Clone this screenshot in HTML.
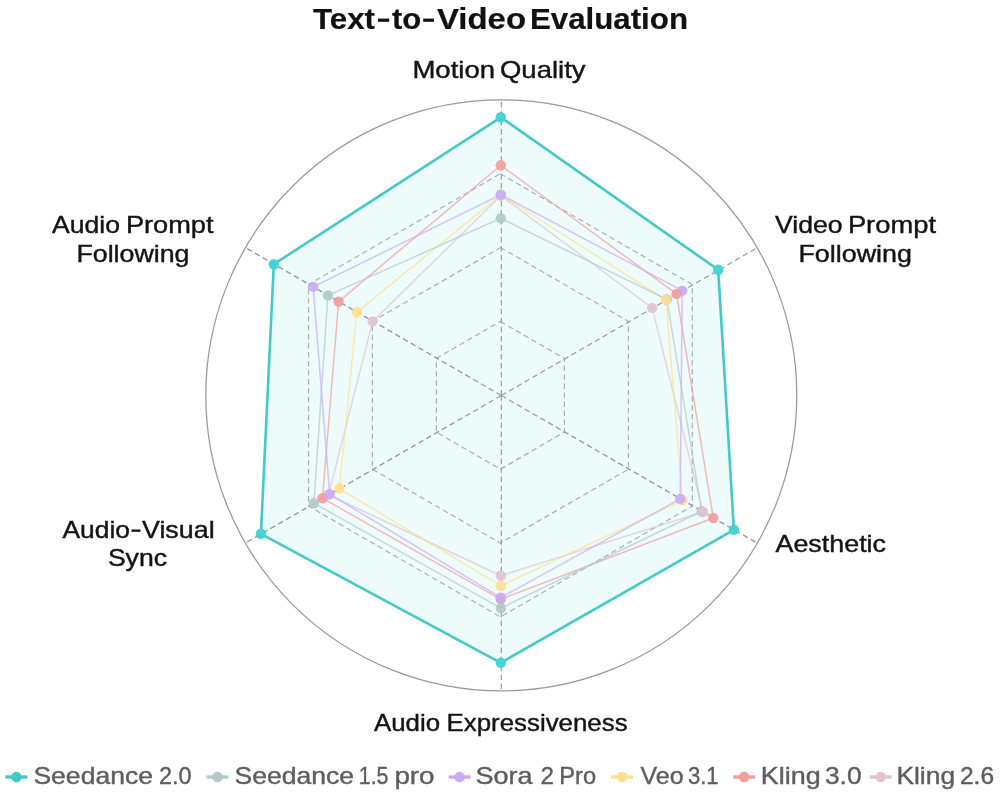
<!DOCTYPE html>
<html><head><meta charset="utf-8"><style>
html,body{margin:0;padding:0;background:#fff;}
svg{display:block;font-family:"Liberation Sans",sans-serif;filter:blur(0.45px);}
</style></head><body>
<svg width="1000" height="794" viewBox="0 0 1000 794">
<rect width="1000" height="794" fill="#ffffff"/>
<polygon points="500.8,117.3 718.2,269.8 733.9,529.9 500.8,662.8 260.9,533.8 273.8,264.2" fill="#edfbfb" stroke="none"/>
<polygon points="500.4,321.4 564.4,358.4 564.4,432.2 500.4,469.2 436.4,432.2 436.4,358.4" fill="none" stroke="#aab0b0" stroke-width="1.2" stroke-dasharray="5.5,3.5"/>
<polygon points="500.4,247.6 628.4,321.4 628.4,469.2 500.4,543.0 372.4,469.2 372.4,321.4" fill="none" stroke="#aab0b0" stroke-width="1.2" stroke-dasharray="5.5,3.5"/>
<polygon points="500.4,173.7 692.3,284.5 692.3,506.1 500.4,616.9 308.5,506.1 308.5,284.5" fill="none" stroke="#aab0b0" stroke-width="1.2" stroke-dasharray="5.5,3.5"/>
<line x1="501.3" y1="395.4" x2="501.3" y2="99.9" stroke="#979b9b" stroke-width="1.2" stroke-dasharray="5.5,3.5"/>
<line x1="501.3" y1="395.4" x2="757.2" y2="247.7" stroke="#979b9b" stroke-width="1.2" stroke-dasharray="5.5,3.5"/>
<line x1="501.3" y1="395.4" x2="757.2" y2="543.1" stroke="#979b9b" stroke-width="1.2" stroke-dasharray="5.5,3.5"/>
<line x1="501.3" y1="395.4" x2="501.3" y2="690.9" stroke="#979b9b" stroke-width="1.2" stroke-dasharray="5.5,3.5"/>
<line x1="501.3" y1="395.4" x2="245.4" y2="543.1" stroke="#979b9b" stroke-width="1.2" stroke-dasharray="5.5,3.5"/>
<line x1="501.3" y1="395.4" x2="245.4" y2="247.6" stroke="#979b9b" stroke-width="1.2" stroke-dasharray="5.5,3.5"/>
<circle cx="501.3" cy="395.4" r="295.5" fill="none" stroke="#999999" stroke-width="1.25"/>
<polygon points="500.8,195.8 652.2,307.9 702.9,512.0 500.8,575.7 328.5,494.8 372.7,321.4" fill="none" stroke="#dfc4cf" stroke-width="1.5" stroke-linejoin="round" stroke-opacity="0.7"/>
<polygon points="500.8,165.3 676.5,293.9 713.3,518.0 500.8,599.3 322.5,498.2 338.6,301.6" fill="none" stroke="#f39c9c" stroke-width="1.5" stroke-linejoin="round" stroke-opacity="0.7"/>
<polygon points="500.8,194.8 665.9,300.0 682.7,500.3 500.8,585.9 339.4,488.5 356.9,312.2" fill="none" stroke="#fde08f" stroke-width="1.5" stroke-linejoin="round" stroke-opacity="0.7"/>
<polygon points="500.8,194.6 682.2,290.6 680.2,498.9 500.8,597.6 329.7,494.1 313.1,286.9" fill="none" stroke="#c9abf7" stroke-width="1.5" stroke-linejoin="round" stroke-opacity="0.7"/>
<polygon points="500.8,218.3 666.9,299.4 701.7,511.3 500.8,608.2 313.9,503.2 327.9,295.4" fill="none" stroke="#b2cbc7" stroke-width="1.5" stroke-linejoin="round" stroke-opacity="0.7"/>
<circle cx="500.8" cy="218.3" r="5.2" fill="#b2cbc7" fill-opacity="0.92"/>
<circle cx="500.8" cy="165.3" r="5.2" fill="#f39c9c" fill-opacity="0.92"/>
<circle cx="500.8" cy="194.8" r="5.2" fill="#fde08f" fill-opacity="0.92"/>
<circle cx="500.8" cy="195.8" r="5.2" fill="#dfc4cf" fill-opacity="0.92"/>
<circle cx="500.8" cy="194.6" r="5.2" fill="#c9abf7" fill-opacity="0.92"/>
<circle cx="666.9" cy="299.4" r="5.2" fill="#b2cbc7" fill-opacity="0.92"/>
<circle cx="652.2" cy="307.9" r="5.2" fill="#dfc4cf" fill-opacity="0.92"/>
<circle cx="665.9" cy="300.0" r="5.2" fill="#fde08f" fill-opacity="0.92"/>
<circle cx="682.2" cy="290.6" r="5.2" fill="#c9abf7" fill-opacity="0.92"/>
<circle cx="676.5" cy="293.9" r="5.2" fill="#f39c9c" fill-opacity="0.92"/>
<circle cx="682.7" cy="500.3" r="5.2" fill="#fde08f" fill-opacity="0.92"/>
<circle cx="680.2" cy="498.9" r="5.2" fill="#c9abf7" fill-opacity="0.92"/>
<circle cx="701.7" cy="511.3" r="5.2" fill="#b2cbc7" fill-opacity="0.92"/>
<circle cx="702.9" cy="512.0" r="5.2" fill="#dfc4cf" fill-opacity="0.92"/>
<circle cx="713.3" cy="518.0" r="5.2" fill="#f39c9c" fill-opacity="0.92"/>
<circle cx="500.8" cy="575.7" r="5.2" fill="#dfc4cf" fill-opacity="0.92"/>
<circle cx="500.8" cy="585.9" r="5.2" fill="#fde08f" fill-opacity="0.92"/>
<circle cx="500.8" cy="599.3" r="5.2" fill="#f39c9c" fill-opacity="0.92"/>
<circle cx="500.8" cy="597.6" r="5.2" fill="#c9abf7" fill-opacity="0.92"/>
<circle cx="500.8" cy="608.2" r="5.2" fill="#b2cbc7" fill-opacity="0.92"/>
<circle cx="328.5" cy="494.8" r="5.2" fill="#dfc4cf" fill-opacity="0.92"/>
<circle cx="313.9" cy="503.2" r="5.2" fill="#b2cbc7" fill-opacity="0.92"/>
<circle cx="339.4" cy="488.5" r="5.2" fill="#fde08f" fill-opacity="0.92"/>
<circle cx="322.5" cy="498.2" r="5.2" fill="#f39c9c" fill-opacity="0.92"/>
<circle cx="329.7" cy="494.1" r="5.2" fill="#c9abf7" fill-opacity="0.92"/>
<circle cx="372.7" cy="321.4" r="5.2" fill="#dfc4cf" fill-opacity="0.92"/>
<circle cx="356.9" cy="312.2" r="5.2" fill="#fde08f" fill-opacity="0.92"/>
<circle cx="338.6" cy="301.6" r="5.2" fill="#f39c9c" fill-opacity="0.92"/>
<circle cx="327.9" cy="295.4" r="5.2" fill="#b2cbc7" fill-opacity="0.92"/>
<circle cx="313.1" cy="286.9" r="5.2" fill="#c9abf7" fill-opacity="0.92"/>
<polygon points="500.8,117.3 718.2,269.8 733.9,529.9 500.8,662.8 260.9,533.8 273.8,264.2" fill="none" stroke="#44c9c7" stroke-width="2.6" stroke-linejoin="round"/>
<circle cx="500.8" cy="117.3" r="5.2" fill="#46d3d6"/>
<circle cx="718.2" cy="269.8" r="5.2" fill="#46d3d6"/>
<circle cx="733.9" cy="529.9" r="5.2" fill="#46d3d6"/>
<circle cx="500.8" cy="662.8" r="5.2" fill="#46d3d6"/>
<circle cx="260.9" cy="533.8" r="5.2" fill="#46d3d6"/>
<circle cx="273.8" cy="264.2" r="5.2" fill="#46d3d6"/>
<rect x="378.0" y="18.6" width="11.2" height="3.2" fill="#111111"/>
<rect x="423.2" y="18.6" width="10.8" height="3.2" fill="#111111"/>
<rect x="131.5" y="529.5" width="9.0" height="2.3" fill="#141414"/>
<text x="313.0" y="28.8" font-size="30" font-weight="700" fill="#111111" stroke="#111111" stroke-width="0.2" textLength="62.0" lengthAdjust="spacingAndGlyphs">Text</text>
<text x="391.9" y="28.8" font-size="30" font-weight="700" fill="#111111" stroke="#111111" stroke-width="0.2" textLength="29.2" lengthAdjust="spacingAndGlyphs">to</text>
<text x="437.0" y="28.8" font-size="30" font-weight="700" fill="#111111" stroke="#111111" stroke-width="0.2" textLength="89.0" lengthAdjust="spacingAndGlyphs">Video</text>
<text x="529.9" y="28.8" font-size="30" font-weight="700" fill="#111111" stroke="#111111" stroke-width="0.2" textLength="158.1" lengthAdjust="spacingAndGlyphs">Evaluation</text>
<text x="412.4" y="77.6" font-size="24" font-weight="400" fill="#141414" stroke="#141414" stroke-width="0.4" textLength="82.7" lengthAdjust="spacingAndGlyphs">Motion</text>
<text x="500.0" y="77.6" font-size="24" font-weight="400" fill="#141414" stroke="#141414" stroke-width="0.4" textLength="85.5" lengthAdjust="spacingAndGlyphs">Quality</text>
<text x="52.0" y="233.0" font-size="24" font-weight="400" fill="#141414" stroke="#141414" stroke-width="0.4" textLength="68.0" lengthAdjust="spacingAndGlyphs">Audio</text>
<text x="125.9" y="233.0" font-size="24" font-weight="400" fill="#141414" stroke="#141414" stroke-width="0.4" textLength="87.6" lengthAdjust="spacingAndGlyphs">Prompt</text>
<text x="76.4" y="261.8" font-size="24" font-weight="400" fill="#141414" stroke="#141414" stroke-width="0.4" textLength="113.1" lengthAdjust="spacingAndGlyphs">Following</text>
<text x="775.0" y="233.0" font-size="24" font-weight="400" fill="#141414" stroke="#141414" stroke-width="0.4" textLength="67.6" lengthAdjust="spacingAndGlyphs">Video</text>
<text x="847.9" y="233.0" font-size="24" font-weight="400" fill="#141414" stroke="#141414" stroke-width="0.4" textLength="88.1" lengthAdjust="spacingAndGlyphs">Prompt</text>
<text x="798.4" y="261.8" font-size="24" font-weight="400" fill="#141414" stroke="#141414" stroke-width="0.4" textLength="113.6" lengthAdjust="spacingAndGlyphs">Following</text>
<text x="62.5" y="537.9" font-size="24" font-weight="400" fill="#141414" stroke="#141414" stroke-width="0.4" textLength="67.5" lengthAdjust="spacingAndGlyphs">Audio</text>
<text x="142.0" y="537.9" font-size="24" font-weight="400" fill="#141414" stroke="#141414" stroke-width="0.4" textLength="72.6" lengthAdjust="spacingAndGlyphs">Visual</text>
<text x="107.9" y="566.0" font-size="24" font-weight="400" fill="#141414" stroke="#141414" stroke-width="0.4" textLength="59.1" lengthAdjust="spacingAndGlyphs">Sync</text>
<text x="775.5" y="551.8" font-size="24" font-weight="400" fill="#141414" stroke="#141414" stroke-width="0.4" textLength="110.5" lengthAdjust="spacingAndGlyphs">Aesthetic</text>
<text x="374.0" y="730.8" font-size="24" font-weight="400" fill="#141414" stroke="#141414" stroke-width="0.4" textLength="66.1" lengthAdjust="spacingAndGlyphs">Audio</text>
<text x="446.5" y="730.8" font-size="24" font-weight="400" fill="#141414" stroke="#141414" stroke-width="0.4" textLength="181.1" lengthAdjust="spacingAndGlyphs">Expressiveness</text>
<text x="33.4" y="783.8" font-size="24" font-weight="400" fill="#5e5e5e" stroke="#5e5e5e" stroke-width="0.4" textLength="119.6" lengthAdjust="spacingAndGlyphs">Seedance</text>
<text x="158.9" y="783.8" font-size="24" font-weight="400" fill="#5e5e5e" stroke="#5e5e5e" stroke-width="0.4" textLength="32.6" lengthAdjust="spacingAndGlyphs">2.0</text>
<text x="234.5" y="783.8" font-size="24" font-weight="400" fill="#5e5e5e" stroke="#5e5e5e" stroke-width="0.4" textLength="119.6" lengthAdjust="spacingAndGlyphs">Seedance</text>
<text x="358.8" y="783.8" font-size="24" font-weight="400" fill="#5e5e5e" stroke="#5e5e5e" stroke-width="0.4" textLength="29.7" lengthAdjust="spacingAndGlyphs">1.5</text>
<text x="394.4" y="783.8" font-size="24" font-weight="400" fill="#5e5e5e" stroke="#5e5e5e" stroke-width="0.4" textLength="40.2" lengthAdjust="spacingAndGlyphs">pro</text>
<text x="475.4" y="783.8" font-size="24" font-weight="400" fill="#5e5e5e" stroke="#5e5e5e" stroke-width="0.4" textLength="57.1" lengthAdjust="spacingAndGlyphs">Sora</text>
<text x="540.4" y="783.8" font-size="24" font-weight="400" fill="#5e5e5e" stroke="#5e5e5e" stroke-width="0.4" textLength="13.5" lengthAdjust="spacingAndGlyphs">2</text>
<text x="559.3" y="783.8" font-size="24" font-weight="400" fill="#5e5e5e" stroke="#5e5e5e" stroke-width="0.4" textLength="36.8" lengthAdjust="spacingAndGlyphs">Pro</text>
<text x="640.5" y="783.8" font-size="24" font-weight="400" fill="#5e5e5e" stroke="#5e5e5e" stroke-width="0.4" textLength="43.1" lengthAdjust="spacingAndGlyphs">Veo</text>
<text x="687.9" y="783.8" font-size="24" font-weight="400" fill="#5e5e5e" stroke="#5e5e5e" stroke-width="0.4" textLength="30.7" lengthAdjust="spacingAndGlyphs">3.1</text>
<text x="760.8" y="783.8" font-size="24" font-weight="400" fill="#5e5e5e" stroke="#5e5e5e" stroke-width="0.4" textLength="59.9" lengthAdjust="spacingAndGlyphs">Kling</text>
<text x="824.9" y="783.8" font-size="24" font-weight="400" fill="#5e5e5e" stroke="#5e5e5e" stroke-width="0.4" textLength="36.7" lengthAdjust="spacingAndGlyphs">3.0</text>
<text x="896.4" y="783.8" font-size="24" font-weight="400" fill="#5e5e5e" stroke="#5e5e5e" stroke-width="0.4" textLength="58.7" lengthAdjust="spacingAndGlyphs">Kling</text>
<text x="959.9" y="783.8" font-size="24" font-weight="400" fill="#5e5e5e" stroke="#5e5e5e" stroke-width="0.4" textLength="34.2" lengthAdjust="spacingAndGlyphs">2.6</text>
<line x1="5.399999999999999" y1="777" x2="27.4" y2="777" stroke="#44c9c7" stroke-width="3.4"/>
<circle cx="16.4" cy="777" r="5.2" fill="#44c9c7"/>
<line x1="206.5" y1="777" x2="228.5" y2="777" stroke="#b2cbc7" stroke-width="3.4"/>
<circle cx="217.5" cy="777" r="5.2" fill="#b2cbc7"/>
<line x1="448.6" y1="777" x2="470.6" y2="777" stroke="#c9abf7" stroke-width="3.4"/>
<circle cx="459.6" cy="777" r="5.2" fill="#c9abf7"/>
<line x1="611" y1="777" x2="633" y2="777" stroke="#fde08f" stroke-width="3.4"/>
<circle cx="622" cy="777" r="5.2" fill="#fde08f"/>
<line x1="733.2" y1="777" x2="755.2" y2="777" stroke="#f39c9c" stroke-width="3.4"/>
<circle cx="744.2" cy="777" r="5.2" fill="#f39c9c"/>
<line x1="869.7" y1="777" x2="891.7" y2="777" stroke="#dfc4cf" stroke-width="3.4"/>
<circle cx="880.7" cy="777" r="5.2" fill="#dfc4cf"/>
</svg>
</body></html>
